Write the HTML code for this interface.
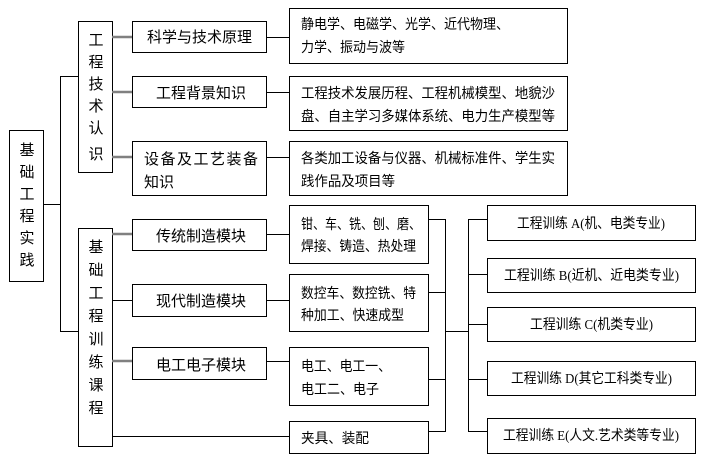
<!DOCTYPE html>
<html><head><meta charset="utf-8"><style>
html,body{margin:0;padding:0;background:#fff;width:728px;height:474px;overflow:hidden}
svg text{font-family:"Liberation Serif","Noto Sans CJK SC","WenQuanYi Zen Hei",sans-serif;font-size:14px;fill:#000}
</style></head><body>
<svg width="728" height="474" viewBox="0 0 728 474" xmlns="http://www.w3.org/2000/svg">
<g fill="none" stroke="#000" stroke-width="1">
<rect x="9.5" y="130.5" width="34" height="151"/>
<rect x="78.5" y="21.5" width="34" height="151"/>
<rect x="78.5" y="228.5" width="34" height="218"/>
<rect x="132.5" y="21.5" width="134" height="31"/>
<rect x="132.5" y="76.5" width="134" height="31"/>
<rect x="132.5" y="141.5" width="134" height="54"/>
<rect x="132.5" y="219.5" width="134" height="31"/>
<rect x="132.5" y="284.5" width="134" height="32"/>
<rect x="132.5" y="347.5" width="134" height="32"/>
<rect x="289.5" y="8.5" width="278" height="55"/>
<rect x="289.5" y="76.5" width="278" height="54"/>
<rect x="289.5" y="141.5" width="278" height="54"/>
<rect x="289.5" y="205.5" width="139" height="58"/>
<rect x="289.5" y="274.5" width="139" height="57"/>
<rect x="289.5" y="347.5" width="139" height="58"/>
<rect x="289.5" y="421.5" width="139" height="32"/>
<rect x="487.5" y="205.5" width="208" height="35"/>
<rect x="487.5" y="258.5" width="208" height="34"/>
<rect x="487.5" y="307.5" width="208" height="34"/>
<rect x="487.5" y="361.5" width="208" height="34"/>
<rect x="487.5" y="418.5" width="208" height="35"/>
<path d="M43 204.5H60.5M60.5 76V331M60 76.5H78M60 331.5H78"/>
<path d="M266 37.5H289M266 92.5H289M266 157.5H289M266 234.5H289M112 300.5H132M266 300.5H289M266 361.5H289M112 436.5H289"/>
<path d="M428 219.5H445.5M428 292.5H445.5M428 379.5H445.5M428 431.5H445.5M445.5 219V432M445 331.5H468.5M468.5 219V432M468 219.5H487M468 274.5H487M468 324.5H487M468 379.5H487M468 431.5H487"/>
</g>
<g stroke="#808080" stroke-width="2.5">
<path d="M112 37H132M112 92H132M112 157H132M112 234H132M112 361H132"/>
</g>
<g text-anchor="middle">
<text x="27" y="155" style="font-size:15px">基</text><text x="27" y="177" style="font-size:15px">础</text><text x="27" y="199" style="font-size:15px">工</text><text x="27" y="221" style="font-size:15px">程</text><text x="27" y="243" style="font-size:15px">实</text><text x="27" y="265" style="font-size:15px">践</text>
<text x="96" y="45" style="font-size:15px">工</text><text x="96" y="67" style="font-size:15px">程</text><text x="96" y="89" style="font-size:15px">技</text><text x="96" y="111" style="font-size:15px">术</text><text x="96" y="133" style="font-size:15px">认</text><text x="96" y="159" style="font-size:15px">识</text>
<text x="96" y="252" style="font-size:15px">基</text><text x="96" y="275" style="font-size:15px">础</text><text x="96" y="298" style="font-size:15px">工</text><text x="96" y="321" style="font-size:15px">程</text><text x="96" y="344" style="font-size:15px">训</text><text x="96" y="367" style="font-size:15px">练</text><text x="96" y="390" style="font-size:15px">课</text><text x="96" y="413" style="font-size:15px">程</text>
</g>
<text x="147" y="42" style="font-size:15px">科学与技术原理</text>
<text x="156" y="98" style="font-size:15px">工程背景知识</text>
<text x="144" y="164" style="font-size:15px;letter-spacing:1.5px">设备及工艺装备</text>
<text x="144" y="187" style="font-size:15px">知识</text>
<text x="156" y="241" style="font-size:15px">传统制造模块</text>
<text x="156" y="306" style="font-size:15px">现代制造模块</text>
<text x="156" y="370" style="font-size:15px">电工电子模块</text>
<text x="301" y="29" textLength="208" lengthAdjust="spacingAndGlyphs">静电学、电磁学、光学、近代物理、</text>
<text x="301" y="52" textLength="104" lengthAdjust="spacingAndGlyphs">力学、振动与波等</text>
<text x="301" y="98" textLength="254" lengthAdjust="spacingAndGlyphs">工程技术发展历程、工程机械模型、地貌沙</text>
<text x="301" y="121" textLength="254" lengthAdjust="spacingAndGlyphs">盘、自主学习多媒体系统、电力生产模型等</text>
<text x="301" y="163" textLength="254" lengthAdjust="spacingAndGlyphs">各类加工设备与仪器、机械标准件、学生实</text>
<text x="301" y="186" textLength="94" lengthAdjust="spacingAndGlyphs">践作品及项目等</text>
<text x="301" y="229" textLength="120" lengthAdjust="spacingAndGlyphs">钳、车、铣、刨、磨、</text>
<text x="301" y="251" textLength="115" lengthAdjust="spacingAndGlyphs">焊接、铸造、热处理</text>
<text x="301" y="298" textLength="115" lengthAdjust="spacingAndGlyphs">数控车、数控铣、特</text>
<text x="301" y="320" textLength="103" lengthAdjust="spacingAndGlyphs">种加工、快速成型</text>
<text x="301" y="371" textLength="90" lengthAdjust="spacingAndGlyphs">电工、电工一、</text>
<text x="301" y="394" textLength="78" lengthAdjust="spacingAndGlyphs">电工二、电子</text>
<text x="301" y="443" textLength="68" lengthAdjust="spacingAndGlyphs">夹具、装配</text>
<text x="517" y="228" textLength="148" lengthAdjust="spacingAndGlyphs">工程训练 A(机、电类专业)</text>
<text x="504" y="280" textLength="175" lengthAdjust="spacingAndGlyphs">工程训练 B(近机、近电类专业)</text>
<text x="530" y="329" textLength="123" lengthAdjust="spacingAndGlyphs">工程训练 C(机类专业)</text>
<text x="511" y="383" textLength="161" lengthAdjust="spacingAndGlyphs">工程训练 D(其它工科类专业)</text>
<text x="503" y="440" textLength="176" lengthAdjust="spacingAndGlyphs">工程训练 E(人文.艺术类等专业)</text>
</svg>
</body></html>
